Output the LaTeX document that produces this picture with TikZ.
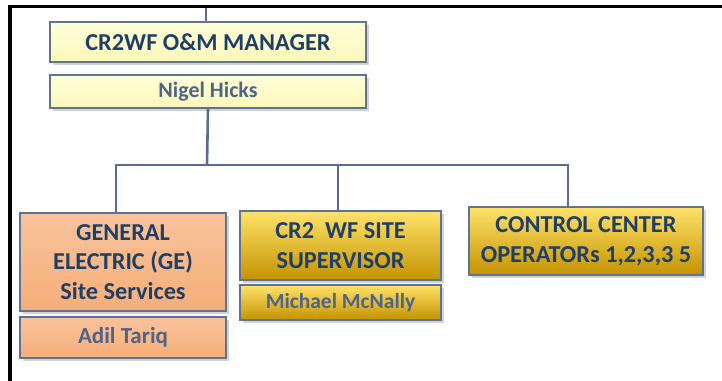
\documentclass[tikz,border=0pt]{standalone}
\usepackage{fontspec}
\setmainfont{Carlito}
\usepackage{tikz}
\usetikzlibrary{positioning,shadows,calc}
\usepackage{xcolor}

\definecolor{boxline}{HTML}{5F7298}
\definecolor{linkline}{HTML}{5B6B95}
\definecolor{titletext}{HTML}{1F3F66}
\definecolor{nametext}{HTML}{4F6488}
\definecolor{paletop}{HTML}{FFFFDA}
\definecolor{palebot}{HTML}{FBF7B8}
\definecolor{orangetop}{HTML}{F9C39C}
\definecolor{orangemid}{HTML}{F9BF90}
\definecolor{orangebot}{HTML}{F5AE78}
\definecolor{goldtop}{HTML}{FFE26A}
\definecolor{goldmid}{HTML}{FFCC00}
\definecolor{goldbot}{HTML}{C49300}

\tikzset{
  orgbox/.style={draw=boxline, line width=1.6pt, inner sep=2pt, align=center,
    font=\fontsize{24.3}{29.5}\selectfont\bfseries, text=titletext,
    drop shadow={shadow xshift=2.5pt, shadow yshift=-2.5pt, opacity=0.35}},
  namebox/.style={orgbox, font=\fontsize{22}{26}\selectfont\bfseries, text=nametext},
  pale/.style={top color=paletop, bottom color=palebot},
  orange/.style={top color=orangetop, middle color=orangemid, bottom color=orangebot},
  gold/.style={top color=goldtop, middle color=goldmid, bottom color=goldbot},
  link/.style={draw=linkline, line width=2.6pt}
}

\begin{document}
\begin{tikzpicture} [x=1pt, y=-1pt]
  \useasboundingbox (0,0) rectangle (722,380);
  % page frame
  \draw [black, line width=3.5pt] (10,382) -- (10,6.5) -- (724,6.5);

  % manager
  \node [orgbox, pale, minimum width=316pt, minimum height=40pt] (mgr) at (208,42) {CR2WF O\&M MANAGER};
  \node [namebox, pale, minimum width=316pt, minimum height=33pt] (nigel) at (208,91.5) {Nigel Hicks};

  % second row
  \node [orgbox, orange, minimum width=206pt, minimum height=98pt] (ge) at (123,262) {GENERAL\\ELECTRIC (GE)\\Site Services};
  \node [namebox, orange, minimum width=206pt, minimum height=41pt, font=\fontsize{23}{26}\selectfont\bfseries] (adil) at (123,337.5) {Adil Tariq};
  \node [orgbox, gold, minimum width=201pt, minimum height=69pt] (sup) at (340.5,245.5) {CR2~ WF SITE\\SUPERVISOR};
  \node [namebox, gold, minimum width=201pt, minimum height=35pt, font=\fontsize{21.5}{26}\selectfont\bfseries] (mcn) at (340.5,302.5) {Michael McNally};
  \node [orgbox, gold, minimum width=234pt, minimum height=68pt] (ccc) at (586,241) {CONTROL CENTER\\OPERATORs 1,2,3,3 5};

  % connectors
  \coordinate (top) at (206,8);
  \coordinate (bus) at (207,165);
  \draw [link] (top) -- (top |- mgr.north);
  \draw [link] (nigel.south) -- (bus);
  \draw [link] ([xshift=-7pt]ge.north) |- (bus) -| ([xshift=-18pt]ccc.north);
  \draw [link] ([xshift=-2.5pt]sup.north) -- ([xshift=-2.5pt]sup.north |- bus);
\end{tikzpicture}
\end{document}
